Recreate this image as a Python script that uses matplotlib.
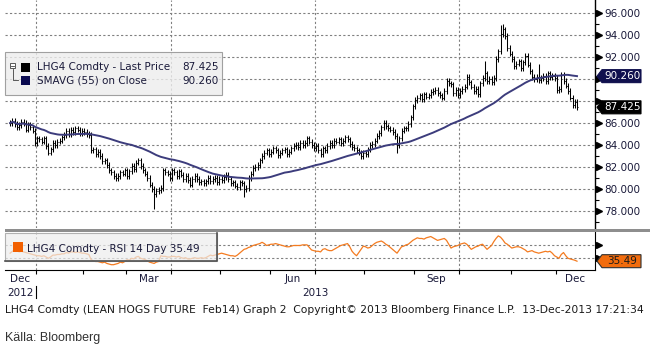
import numpy as np
import pandas as pd
import matplotlib
matplotlib.use('Agg')
import matplotlib.pyplot as plt
from matplotlib.collections import LineCollection
from matplotlib.patches import Rectangle, Polygon
from matplotlib.lines import Line2D
from matplotlib.transforms import blended_transform_factory

plt.rcParams['font.family'] = 'DejaVu Sans'
plt.rcParams['font.size'] = 7.5

# LHG4 (lean hogs Feb14) daily closes, CME trading days 13-Dec-2012 .. 13-Dec-2013
close = [
    86.0, 86.2, 85.9, 85.6, 85.8, 86.1, 86.0, 85.4, 85.8,
    85.6, 85.3, 84.2, 84.6, 84.5, 84.3, 84.6, 83.9, 83.3,
    83.6, 84.2, 84.0, 84.3, 84.4, 84.7, 84.9, 85.3, 85.0,
    85.4, 85.2, 85.5, 85.4, 85.1, 85.3, 85.2, 85.0, 84.9, 83.5,
    83.6, 83.2, 83.4, 83.0, 82.5, 82.6, 82.2, 81.7, 81.5,
    81.2, 81.0, 81.2, 81.5, 81.4, 81.7, 81.2, 81.6, 82.1, 81.8,
    82.4, 82.6, 82.1, 81.7, 81.4, 81.0, 80.4, 80.0, 79.5, 79.8,
    79.9, 80.1, 81.7, 81.5, 81.4, 81.0, 81.7, 81.5, 81.2,
    81.6, 81.3, 80.9, 81.2, 80.8, 80.4, 80.9, 81.2, 80.9, 80.6,
    80.7, 80.5, 80.7, 81.0, 80.7, 80.9, 81.0, 80.6, 80.9, 80.8,
    81.1, 81.3, 80.9, 80.5, 80.6, 80.3, 80.2, 80.6, 80.5, 80.0,
    80.1, 81.0, 81.4, 81.9, 82.0, 82.2, 82.6, 83.0, 83.3,
    83.5, 83.2, 83.4, 83.7, 83.5, 83.1, 83.3, 83.5, 83.6, 83.2,
    83.4, 83.7, 83.9, 84.0, 83.8, 84.2, 84.0, 84.2, 84.6, 84.3,
    84.0, 83.7, 83.9, 83.5, 83.2, 83.7, 83.5, 83.9, 84.2,
    84.0, 84.4, 84.3, 84.5, 84.2, 84.4, 84.7, 84.5, 84.1, 83.8,
    83.7, 83.5, 83.3, 83.0, 83.3, 83.2, 83.6, 84.0, 84.1, 84.4,
    84.8, 85.1, 85.6, 86.0, 85.7, 85.5, 85.4, 85.2, 84.8, 84.0,
    84.6, 85.3, 85.5, 85.5, 85.9, 86.5, 87.5, 88.1, 88.3,
    88.5, 88.2, 88.6, 88.4, 88.5, 88.8, 88.9, 89.0, 88.7, 88.5,
    88.3, 88.9, 89.8, 89.6, 89.5, 88.7, 89.0,
    88.5, 88.9, 89.1,
    89.3, 90.2, 89.7, 89.3, 88.9, 89.1, 88.6, 89.6, 90.1, 90.5,
    89.8, 90.0, 89.7, 90.1, 91.8, 92.5, 94.1, 94.5, 93.9, 92.8,
    92.3, 91.8, 91.2, 91.4, 91.6, 91.0, 91.5, 92.1, 91.3, 90.7,
    90.2, 90.0, 90.2, 89.9, 90.1, 90.3, 89.8, 90.5, 90.2, 90.3,
    90.1, 89.0, 89.1,
    90.4, 89.8, 89.4, 88.9, 88.3, 87.6, 87.9, 87.425,
]

# RSI 14 day
rsi14 = [
    48, 51, 53, 52, 50, 51, 50, 49, 48,
    47, 46, 45, 44, 44, 43, 44, 42, 40,
    42, 45, 45, 46, 46, 47, 47, 49, 48,
    50, 50, 49, 50, 49, 48, 48, 47, 46, 38,
    36, 35, 35, 34, 33, 34, 32, 31, 30,
    30, 31, 32, 34, 33, 35, 38, 37, 40, 39,
    42, 43, 40, 39, 38, 36, 34, 33, 32, 34,
    35, 44, 43, 43, 42, 42, 43, 43, 42,
    43, 41, 40, 41, 39, 39, 40, 41, 40, 40,
    41, 40, 41, 43, 45, 44, 45, 46, 47, 48,
    47, 46, 45, 44, 44, 43, 45, 48, 51, 54,
    55, 57, 58, 60, 61, 62, 63, 65, 63,
    60, 61, 62, 62, 63, 62, 61, 60, 59, 58,
    58, 59, 60, 60, 60, 60, 61, 61, 61, 57,
    53, 52, 51, 51, 50, 54, 55, 53, 52,
    52, 54, 56, 58, 60, 61, 62, 63, 58, 51,
    47, 44, 49, 54, 59, 58, 56, 57, 60, 63,
    65, 66, 67, 65, 62, 60, 57, 54, 51, 48,
    53, 58, 59, 61, 62, 65, 68, 70, 72,
    71, 71, 70, 72, 73, 74, 72, 70, 68, 69,
    70, 71, 68, 62, 56, 58, 59, 60, 62, 63,
    64, 62, 58, 54, 56, 58, 59, 61, 62, 58,
    54, 57, 60, 66, 71, 75, 73, 69, 64, 62,
    59, 56, 57, 58, 58, 57, 55, 53, 50, 51,
    52, 50, 49, 48, 49, 50, 51, 50, 51, 48,
    44, 42, 40, 46, 49, 44, 40, 39, 38,
    37, 35.49,
]

# sessions whose range goes well beyond the open/close span
spike_high = {211: 91.6, 218: 94.9, 219: 95.0, 235: 91.4}
spike_low = {64: 78.2, 104: 79.3, 172: 83.3}

holidays = ['2012-12-25', '2013-01-01', '2013-01-21', '2013-02-18', '2013-03-29',
            '2013-05-27', '2013-07-04', '2013-09-02', '2013-11-28']
dates = pd.bdate_range('2012-12-13', '2013-12-13', freq='C', holidays=holidays)

close = np.array(close)
rsi14 = np.array(rsi14, dtype=float)
pos = np.arange(len(close))
opens = np.r_[close[0], close[:-1]]
high = np.maximum(opens, close) + 0.25
low = np.minimum(opens, close) - 0.25
for k, v in spike_high.items():
    high[k] = v
for k, v in spike_low.items():
    low[k] = v
sma55 = pd.Series(close).rolling(55, min_periods=1).mean().to_numpy()

W, H = 650, 347
XMIN, XMAX = -2.27, 260.0


def fx(x):
    return x / W


def fy(y):
    return 1 - y / H


fig = plt.figure(figsize=(W / 100, H / 100), dpi=100)
fig.patch.set_facecolor('white')

ax = fig.add_axes([fx(5), fy(228), fx(590), fy(0) - fy(228)])
axr = fig.add_axes([fx(5), fy(270), fx(590), fy(232) - fy(270)])

# month boundaries on the trading-day axis
month_key = dates.year * 12 + dates.month
starts = np.r_[0, np.flatnonzero(np.diff(month_key)) + 1]
edges = starts - 0.5
span_lo = edges.astype(float).copy()
span_lo[0] = XMIN
span_hi = np.r_[edges[1:], XMAX]
quarter_edges = [e for e, s in zip(edges[1:], starts[1:]) if dates[s].month in (1, 4, 7, 10)]

grid_kw = dict(color='#808080', lw=0.8, ls=(0, (2, 2)), zorder=0)

# ---- price panel
for v in np.arange(78, 97, 2):
    ax.axhline(v, **grid_kw)
for e in quarter_edges:
    ax.axvline(e, **grid_kw)

segs = []
for j in pos:
    segs.append([(j, low[j]), (j, high[j])])
    segs.append([(j - 0.45, opens[j]), (j, opens[j])])
    segs.append([(j, close[j]), (j + 0.45, close[j])])
ax.add_collection(LineCollection(segs, colors='black', linewidths=0.75, zorder=3))
ax.plot(pos, sma55, color='#3c3c7c', lw=1.4, zorder=4)

ax.set_xlim(XMIN, XMAX)
ax.set_ylim(96 - 215 / 11, 96 + 13 / 11)
ax.set_xticks([])
ax.yaxis.tick_right()
yt = np.arange(78, 97, 2)
ax.set_yticks(yt)
# 88 and 90 sit under the last-value tags
ax.set_yticklabels(['' if v in (88, 90) else f'{v:.3f}' for v in yt])
ax.set_yticks(np.arange(77, 97, 2), minor=True)
ax.tick_params(axis='y', which='major', length=0, pad=6.5, labelsize=7.5, labelcolor='#1a1a3a')
ax.tick_params(axis='y', which='minor', length=3, width=0.8, direction='out', color='black')
for s in ('left', 'top', 'bottom'):
    ax.spines[s].set_visible(False)
ax.spines['right'].set_linewidth(1.0)
ax.plot(np.full(len(yt), 1.0068), yt, marker='>', ms=4.5, color='black', ls='none',
        transform=ax.get_yaxis_transform(), clip_on=False)
ax.set_facecolor('white')

# ---- RSI panel
for v in (40, 60):
    axr.axhline(v, **grid_kw)
for e in quarter_edges:
    axr.axvline(e, **grid_kw)
axr.plot(pos, rsi14, color='#f47b20', lw=0.9, zorder=3)
axr.set_xlim(XMIN, XMAX)
axr.set_ylim(40 - 11.7 / 0.64, 60 + 13.5 / 0.64)
axr.yaxis.tick_right()
axr.set_yticks([40, 60])
axr.set_yticklabels(['', ''])
axr.tick_params(axis='y', length=0)
axr.plot([1.0068, 1.0068], [40, 60], marker='>', ms=4.5, color='black', ls='none',
         transform=axr.get_yaxis_transform(), clip_on=False)
for s in ('left', 'top'):
    axr.spines[s].set_visible(False)
axr.set_xticks([])
axr.set_xticks(edges[1:], minor=True)
axr.tick_params(axis='x', which='minor', length=3, width=0.8, direction='out')

# month and year labels
tr = blended_transform_factory(axr.transData, fig.transFigure)
for lo, hi, s in zip(span_lo, span_hi, starts):
    if dates[s].month in (12, 3, 6, 9):
        axr.text((lo + hi) / 2, fy(279.5), dates[s].strftime('%b'), transform=tr,
                 ha='center', va='center', color='#1a1a3a', clip_on=False)
jan = quarter_edges[0]
axr.text((XMIN + jan) / 2, fy(293), '2012', transform=tr, ha='center', va='center',
         color='#1a1a3a', clip_on=False)
axr.text((jan + XMAX) / 2, fy(293), '2013', transform=tr, ha='center', va='center',
         color='#1a1a3a', clip_on=False)
fig.add_artist(Line2D([jan, jan], [fy(286), fy(298)], transform=tr, color='black', lw=0.8))

# separator bar between panels
fig.add_artist(Rectangle((fx(5), fy(232)), fx(645), 3 / H, transform=fig.transFigure,
                         facecolor='#8e8e8e', edgecolor='none'))


def value_tag(axis, value, text, face, fg, edge=None):
    y = fig.transFigure.inverted().transform(axis.transData.transform((0, value)))[1]
    h = 13 / H
    x0, x1, x2 = fx(597), fx(602), fx(641)
    fig.add_artist(Polygon([(x0, y), (x1, y + h / 2), (x2, y + h / 2), (x2, y - h / 2), (x1, y - h / 2)],
                           closed=True, transform=fig.transFigure, facecolor=face,
                           edgecolor=edge or face, lw=0.8, zorder=5))
    fig.text((x1 + x2) / 2 + fx(1), y, text, color=fg, ha='center', va='center', zorder=6)


last_px = f'{close[-1]:.3f}'
last_sma = f'{sma55[-1]:.3f}'
last_rsi = f'{rsi14[-1]:.2f}'
value_tag(ax, sma55[-1], last_sma, '#10104e', 'white')
value_tag(ax, close[-1], last_px, 'black', 'white')
value_tag(axr, rsi14[-1], last_rsi, '#f26c0d', '#1a1a1a', edge='#303030')

# price legend
fig.add_artist(Rectangle((fx(5), fy(95)), fx(217), 43 / H, transform=fig.transFigure,
                         facecolor=(0.93, 0.93, 0.93, 0.8), edgecolor='#a0a0a0', lw=0.8))
fig.add_artist(Rectangle((fx(10), fy(68)), fx(5), 5 / H, transform=fig.transFigure,
                         facecolor='white', edgecolor='#404040', lw=0.6))
fig.add_artist(Line2D([fx(11), fx(14)], [fy(65.5), fy(65.5)], color='#404040', lw=0.6))
fig.add_artist(Line2D([fx(12.5), fx(12.5), fx(18)], [fy(69), fy(80), fy(80)], color='#404040', lw=0.6))
fig.add_artist(Rectangle((fx(21), fy(72)), fx(9), 9 / H, transform=fig.transFigure,
                         facecolor='black', edgecolor='none'))
fig.add_artist(Rectangle((fx(21), fy(85)), fx(9), 9 / H, transform=fig.transFigure,
                         facecolor='#0a0a50', edgecolor='none'))
fig.text(fx(37), fy(67), 'LHG4 Comdty - Last Price', va='center', color='#1a1a3a')
fig.text(fx(219), fy(67), last_px, va='center', ha='right', color='#1a1a3a')
fig.text(fx(37), fy(80.5), 'SMAVG (55) on Close', va='center', color='#1a1a3a')
fig.text(fx(219), fy(80.5), last_sma, va='center', ha='right', color='#1a1a3a')

# RSI legend
fig.add_artist(Rectangle((fx(5), fy(261)), fx(212), 28 / H, transform=fig.transFigure,
                         facecolor=(0.93, 0.93, 0.93, 0.7), edgecolor='#b0b0b0', lw=0.8))
fig.add_artist(Line2D([fx(217), fx(217), fx(5)], [fy(233), fy(261), fy(261)], color='#505050', lw=1.2))
fig.add_artist(Rectangle((fx(13), fy(252)), fx(10), 10 / H, transform=fig.transFigure,
                         facecolor='#f26000', edgecolor='none'))
fig.text(fx(27), fy(249), f'LHG4 Comdty - RSI 14 Day {last_rsi}', va='center', color='#1a1a3a')

# footer
fig.text(fx(5), fy(310), 'LHG4 Comdty (LEAN HOGS FUTURE  Feb14) Graph 2  Copyright\u00a9 2013 '
         'Bloomberg Finance L.P.  13-Dec-2013 17:21:34', va='center', color='#1a1a1a',
         fontsize=7.75)
fig.text(fx(5), fy(338), 'K\u00e4lla: Bloomberg', va='center', family='Liberation Sans',
         fontsize=9, color='#333333')

fig.savefig('out.png', dpi=100)
